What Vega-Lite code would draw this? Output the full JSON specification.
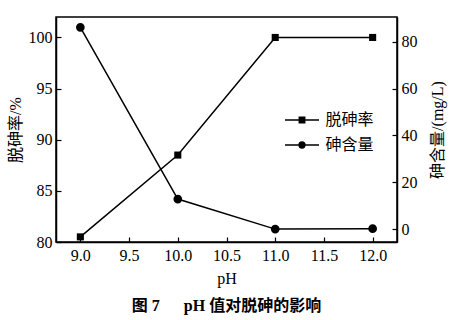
{
  "$schema": "https://vega.github.io/schema/vega-lite/v6.json",
  "width": 341,
  "height": 225,
  "autosize": {"type": "none"},
  "padding": {"left": 56, "top": 17, "right": 76, "bottom": 78},
  "background": "white",
  "config": {
    "view": {"stroke": "black", "strokeWidth": 1.5},
    "font": "Liberation Serif, Noto Sans CJK SC",
    "axis": {
      "grid": false,
      "domainColor": "black",
      "domainWidth": 1.5,
      "tickColor": "black",
      "tickWidth": 1.2,
      "tickSize": -5,
      "labelColor": "black",
      "labelFont": "Liberation Serif, Noto Sans CJK SC",
      "labelFontSize": 16,
      "titleColor": "black",
      "titleFont": "Liberation Serif, Noto Sans CJK SC",
      "titleFontSize": 16,
      "titleFontWeight": "normal"
    },
    "legend": {
      "labelFontSize": 16,
      "labelFont": "Liberation Serif, Noto Sans CJK SC",
      "labelColor": "black",
      "labelOffset": 14,
      "symbolSize": 289,
      "symbolFillColor": "black",
      "symbolStrokeColor": "black",
      "symbolStrokeWidth": 1.5,
      "padding": 0,
      "orient": "none"
    }
  },
  "title": {
    "text": "图 7\u3000\u00a0\u00a0pH 值对脱砷的影响",
    "orient": "bottom",
    "anchor": "middle",
    "font": "Liberation Serif, Noto Sans CJK SC",
    "fontSize": 16,
    "fontWeight": "bold",
    "color": "black",
    "offset": 12
  },
  "data": {
    "values": [
      {"pH": 9.0, "series": "脱砷率", "value": 80.5},
      {"pH": 10.0, "series": "脱砷率", "value": 88.5},
      {"pH": 11.0, "series": "脱砷率", "value": 100},
      {"pH": 12.0, "series": "脱砷率", "value": 100},
      {"pH": 9.0, "series": "砷含量", "value": 86.1},
      {"pH": 10.0, "series": "砷含量", "value": 12.9},
      {"pH": 11.0, "series": "砷含量", "value": 0.1},
      {"pH": 12.0, "series": "砷含量", "value": 0.3}
    ]
  },
  "encoding": {
    "x": {
      "field": "pH",
      "type": "quantitative",
      "scale": {"domain": [8.75, 12.25], "nice": false, "zero": false},
      "axis": {"values": [9, 9.5, 10, 10.5, 11, 11.5, 12], "format": ".1f", "title": "pH", "labelPadding": 10, "titlePadding": 7}
    }
  },
  "layer": [
    {
      "transform": [{"filter": "datum.series === '脱砷率'"}],
      "encoding": {
        "y": {
          "field": "value",
          "type": "quantitative",
          "scale": {"domain": [80, 102], "nice": false, "zero": false},
          "axis": {"orient": "left", "values": [80, 85, 90, 95, 100], "title": "脱砷率/%", "labelPadding": 9, "titlePadding": 5}
        }
      },
      "layer": [
        {"mark": {"type": "line", "color": "black", "strokeWidth": 1.5}},
        {
          "mark": {"type": "point", "shape": "square", "filled": true, "color": "black", "size": 50, "opacity": 1},
          "encoding": {
            "fill": {
              "field": "series",
              "type": "nominal",
              "scale": {"domain": ["脱砷率"], "range": ["black"]},
              "legend": {
                "title": null,
                "legendX": 236.5,
                "legendY": 93.5,
                "symbolType": "M-2,0H2M-0.32,-0.32H0.32V0.32H-0.32Z"
              }
            }
          }
        }
      ]
    },
    {
      "transform": [{"filter": "datum.series === '砷含量'"}],
      "encoding": {
        "y": {
          "field": "value",
          "type": "quantitative",
          "scale": {"domain": [-5.4, 90.5], "nice": false, "zero": false},
          "axis": {"orient": "right", "values": [0, 20, 40, 60, 80], "title": "砷含量/(mg/L)", "titleAngle": -90, "labelPadding": 9, "titlePadding": 28}
        }
      },
      "layer": [
        {"mark": {"type": "line", "color": "black", "strokeWidth": 1.5}},
        {
          "mark": {"type": "point", "shape": "circle", "filled": true, "color": "black", "size": 45, "opacity": 1},
          "encoding": {
            "stroke": {
              "field": "series",
              "type": "nominal",
              "scale": {"domain": ["砷含量"], "range": ["black"]},
              "legend": {
                "title": null,
                "legendX": 236.5,
                "legendY": 118.5,
                "symbolType": "M-2,0H2M0.34,0A0.34,0.34 0 1,1 -0.34,0A0.34,0.34 0 1,1 0.34,0Z"
              }
            }
          }
        }
      ]
    }
  ],
  "resolve": {"scale": {"y": "independent"}}
}
